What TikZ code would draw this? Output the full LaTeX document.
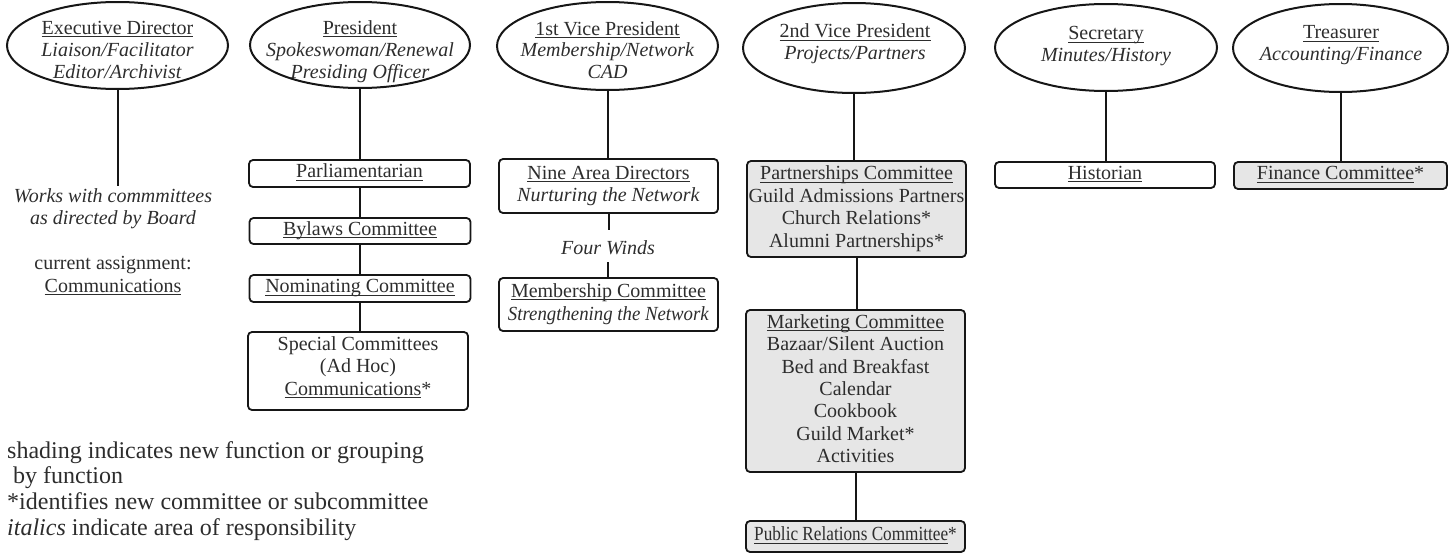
\documentclass[tikz,border=0pt]{standalone}
\usepackage{fontspec}
\setmainfont{Liberation Serif}
\usetikzlibrary{shapes.geometric}
\definecolor{linec}{RGB}{22,22,22}
\definecolor{textc}{RGB}{45,45,45}
\definecolor{shadec}{RGB}{230,230,230}
\newsavebox\ulbox
\newcommand\ulx[1]{\sbox\ulbox{#1}\rlap{\rule[-2.6pt]{\wd\ulbox}{0.9pt}}\usebox\ulbox}
\newcommand\bxfont{\fontsize{20}{22.4}\selectfont}
\newcommand\ovfont{\fontsize{20}{21.8}\selectfont}
\newcommand\lgfont{\fontsize{24}{25.7}\selectfont}
\tikzset{
  oval/.style={draw=linec, line width=2pt, ellipse, inner sep=0pt},
  ovtext/.style={inner sep=0pt, align=center, text=textc, font=\ovfont},
  txt/.style={inner sep=0pt, align=center, text=textc, font=\bxfont},
  box/.style={draw=linec, line width=1.8pt, rounded corners=4pt, inner sep=0pt,
    align=center, text=textc, font=\bxfont},
  shadedbox/.style={box, fill=shadec},
  link/.style={draw=linec, line width=2pt},
  legend/.style={inner sep=0pt, align=left, text=textc, font=\lgfont}
}
\begin{document}
\begin{tikzpicture}[x=1pt,y=-1pt]
\useasboundingbox (0,0) rectangle (1450,557);

% ---- officers (ellipses) ----
\node[oval, minimum width=221pt, minimum height=87pt] (ed)  at (117.5,45.5) {};
\node[oval, minimum width=220pt, minimum height=86pt] (pres) at (360,45) {};
\node[oval, minimum width=221pt, minimum height=88pt] (vpa) at (607.5,46) {};
\node[oval, minimum width=222pt, minimum height=90pt] (vpb) at (854,48) {};
\node[oval, minimum width=222pt, minimum height=87pt] (sec) at (1106,47.5) {};
\node[oval, minimum width=215pt, minimum height=88pt] (tre) at (1340.5,48) {};

\node[ovtext] (edt) at (117.5,52) {\strut\ulx{Executive Director}\\\strut\textit{Liaison/Facilitator}\\\strut\textit{Editor/Archivist}};
\node[ovtext] (prest) at (360,52) {\strut\ulx{President}\\\strut\textit{Spokeswoman/Renewal}\\\strut\textit{Presiding Officer}};
\node[ovtext] (vpat) at (607.5,52.5) {\strut\ulx{1st Vice President}\\\strut\textit{Membership/Network}\\\strut\textit{CAD}};
\node[ovtext] (vpbt) at (855,44.5) {\strut\ulx{2nd Vice President}\\\strut\textit{Projects/Partners}};
\node[ovtext] (sect) at (1106,46.5) {\strut\ulx{Secretary}\\\strut\textit{Minutes/History}};
\node[ovtext] (tret) at (1341,45.5) {\strut\ulx{Treasurer}\\\strut\textit{Accounting/Finance}};

% ---- executive director column ----
\node[txt] (works) at (113,209) {\strut\textit{Works with commmittees}\\\strut\textit{as directed by Board}};
\node[txt] (assign) at (113,276.5) {\strut current assignment:\\\strut\ulx{Communications}};

% ---- president column ----
\node[box, minimum width=221pt, minimum height=27pt] (parl) at (359.5,173.5) {\strut\ulx{Parliamentarian}};
\node[box, minimum width=221pt, minimum height=26pt] (bylaws) at (360,231) {\strut\ulx{Bylaws Committee}};
\node[box, minimum width=221pt, minimum height=27pt] (nom) at (360,288.5) {\strut\ulx{Nominating Committee}};
\node[box, minimum width=220pt, minimum height=78pt] (spec) at (358,371) {\strut Special Committees\\\strut (Ad Hoc)\\\strut\ulx{Communications}*\rule[-12pt]{0pt}{1pt}};

% ---- 1st vice president column ----
\node[box, minimum width=219pt, minimum height=54pt] (nine) at (608.5,186) {\strut\ulx{Nine Area Directors}\\\strut\textit{Nurturing the Network}};
\node[txt, minimum height=32pt] (fw) at (608,246) {\rule{0pt}{23.7pt}\strut\textit{Four Winds}};
\node[box, minimum width=219pt, minimum height=53pt] (mem) at (608.5,304.5) {\strut\ulx{Membership Committee}\\\strut\scalebox{0.94}[1]{\textit{Strengthening the Network}}};

% ---- 2nd vice president column ----
\node[shadedbox, minimum width=219pt, minimum height=96pt] (part) at (856.5,209) {\strut\ulx{Partnerships Committee}\\\strut Guild Admissions Partners\\\strut Church Relations*\\\strut Alumni Partnerships*};
\node[shadedbox, minimum width=219pt, minimum height=162pt] (mkt) at (855.5,391) {\strut\ulx{Marketing Committee}\\\strut Bazaar/Silent Auction\\\strut Bed and Breakfast\\\strut Calendar\\\strut Cookbook\\\strut Guild Market*\\\strut Activities};
\node[shadedbox, minimum width=219pt, minimum height=31pt] (pr) at (855.5,536.5) {\strut\scalebox{0.86}[1]{\ulx{Public Relations Committee}*}};

% ---- secretary / treasurer ----
\node[box, minimum width=220pt, minimum height=26pt] (hist) at (1105,175) {\strut\ulx{Historian}};
\node[shadedbox, minimum width=213pt, minimum height=27pt] (fin) at (1340.5,175.5) {\strut\ulx{Finance Committee}*};

% ---- legend ----
\node[legend, anchor=west] (leg) at (7,491.5) {\strut shading indicates new function or grouping\\\strut\hspace*{6pt}by function\\\strut *identifies new committee or subcommittee\\\strut\textit{italics} indicate area of responsibility};

% ---- connectors ----
\draw[link] (ed.south) -- (ed.south |- works.north);
\draw[link] (pres.south) -- (pres.south |- parl.north);
\draw[link] (parl.south) -- (parl.south |- bylaws.north);
\draw[link] (bylaws.south) -- (bylaws.south |- nom.north);
\draw[link] (nom.south) -- (nom.south |- spec.north);
\draw[link] (vpa.south) -- (vpa.south |- nine.north);
\draw[link] (nine.south) -- (nine.south |- fw.north);
\draw[link] (fw.south) -- (fw.south |- mem.north);
\draw[link] (vpb.south) -- (vpb.south |- part.north);
\draw[link] (part.south) -- (part.south |- mkt.north);
\draw[link] (mkt.south) -- (mkt.south |- pr.north);
\draw[link] (sec.south) -- (sec.south |- hist.north);
\draw[link] (tre.south) -- (tre.south |- fin.north);
\end{tikzpicture}
\end{document}
